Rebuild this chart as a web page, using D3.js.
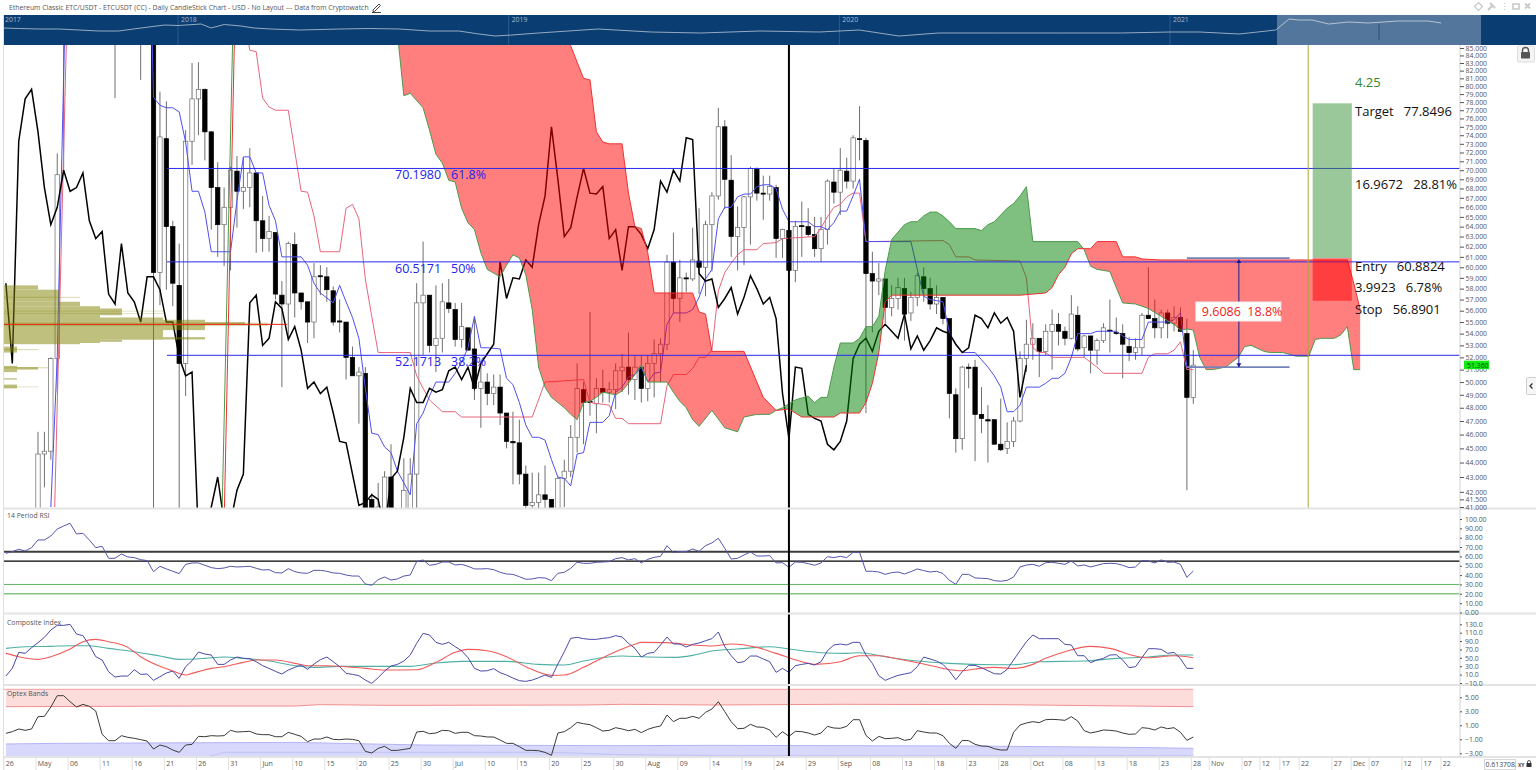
<!DOCTYPE html>
<html><head><meta charset="utf-8"><title>ETC/USDT</title>
<script src="https://cdnjs.cloudflare.com/ajax/libs/d3/7.8.5/d3.min.js"></script>
<style>html,body{margin:0;padding:0;background:#fff;overflow:hidden}svg{display:block}text{font-family:"Open Sans",sans-serif}</style>
</head><body><svg id="c" width="1536" height="770"></svg><script>
// ---------- DATA ----------
const chartTitle="Ethereum Classic ETC/USDT - ETCUSDT (CC) - Daily CandleStick Chart - USD - No Layout --- Data from Cryptowatch";
// daily candles [open, high, low, close]; day 0 = 26 Apr, day 185 = 28 Oct
const candleRows=[
[38,39,37,38],[38,39,37,38.4],[38.4,39,37,38],[38,39,37,38.5],[38.5,39.5,37.5,40],
[40,46.2,39,44.6],[44.6,46.2,42.3,44.8],[44.8,52,44.2,51.9],[51.9,71.9,49.2,69.5],[86,100,69.5,95],
[95,105,90,100],[100,110,92,98],[98,108,90,96],[96,104,90,100],[100,108,92,95],[95,102,90,98],[98,104,92,94],[92,98,78.5,90],[90,96,87,92],[92,100,88,96],[96,104,90,92],[92,98,80.8,90],[90,100,87,95],
[95,100,38,59.5],[59.5,79.3,56.5,73.8],[73.6,78.1,57.9,64],[64,64.6,56.4,58.5],[58.3,62.3,39,51.5],[51.5,74.6,48.9,73.3],[73.3,83,70.6,78.4],[78.4,83.1,74,79.6],[79.6,79.7,71.1,74.4],[74.4,74.5,63.7,68.1],[68.1,70.9,61,64.2],[64.2,68.1,60.1,66],[66,70.4,59.7,70],[69.9,71.6,63.9,67.7],[67.7,71.4,65.8,68.1],[68.1,72.5,66,69.7],[69.7,69.7,61.4,64.6],
[64.6,67.2,61.5,62.8],[62.8,65.1,61.5,63.5],[63.4,63.4,57,57.5],[57.4,58.7,49.6,56.6],[56.6,62.5,53.6,62.3],[62.2,63.4,55.4,57.6],[57.6,57.6,56.1,56.8],[56.8,56.8,53.2,55],[55,60.4,53.6,59.1],[59.2,60.2,57.4,59.1],[59.1,60,56.8,57.9],[57.8,58.2,54.7,55],[55.1,57,54.1,55],[55,55,50.2,52],[52,52.9,50.5,50.5],[50.5,51.2,46.8,50.8],[50.7,51.2,38,39],[41.5,41.9,38,39],[40,42.6,38,41],[40,43.4,39,43],
[43,45.3,39,40],[39,40.5,38,40],[40,44.3,39,42.1],[40.5,44.3,39,43.2],[43.2,58.5,40,56.7],[56.7,62.5,52.2,57.4],[57.4,57.4,52.4,53],[53,58.3,50.8,53.6],[53.6,58.5,52.4,56.8],[56.7,58.9,55.8,56.2],[56.1,56.7,52.9,53.5],[53.5,56.7,52.8,54.6],[54.5,54.5,52.6,52.6],[52.7,55.4,48.6,49.5],[49.5,51.4,46.5,50],[50,50.7,48.2,49.1],[49.1,50.6,48.2,49.6],[49.6,50.6,46.7,47.6],[47.6,47.6,45,45.5],[45.5,47.7,42.5,45.4],
[45.4,47.1,42.5,43.2],[43.2,43.8,40,41.1],[41.1,43.3,40,41.3],[41.3,43.3,40,41.8],[41.8,43.8,40,41.5],[41.5,41.5,39,39.5],[39.5,43,38.5,42.9],[42.9,44.2,41,43.4],[43.4,46.7,43,45.8],[45.8,51.5,44.7,49.5],[49.4,50,45.3,48.4],[48.5,55.9,47.4,48.4],[48.3,50.3,46.1,49.5],[49.5,51,48.4,49.2],[49.2,50,48.4,49.4],[49.4,51.5,47.9,50.9],[50.9,52.3,49.2,51.2],[51.2,54.1,49,50.2],[50.2,52.2,48.6,51.2],[51.2,52.2,48.4,49.5],
[49.5,52.2,48.5,51.5],[51.5,53.5,48.8,52.3],[52.3,53.6,50,53.1],[53.1,61.2,52.6,60.5],[60.5,63.4,55.8,57.1],[57.1,60.7,55,59],[59,59.5,57.7,58.9],[58.9,63.9,58.7,60.7],[60.6,65.9,57.5,60],[60,64.6,57.3,64.2],[64.2,67.6,59.6,67.2],[67.2,77.3,66.8,75],[75,75.8,65.8,69],[68.9,71.7,61,63],[63,66.1,59.7,63.9],[63.9,67.2,60.2,67.1],[67.1,70.4,62.2,70.2],[70.1,70.3,66.7,67.5],[67.5,69.4,64.7,67.4],[67.4,69.4,66.7,68.2],
[68.1,68.4,60.9,62.8],[62.8,63.8,60.9,63.7],[63.6,65.2,58.5,59.7],[59.7,64.6,58.6,64],[64.1,66.6,61,64],[64,65.9,63,63.2],[63.2,65,61,61.8],[61.8,65,60.5,63.7],[63.7,69,62.2,68.8],[68.7,70.2,66.4,67.6],[67.6,72.5,65.2,70],[69.9,71.4,68,68.8],[68.8,74,68,73.7],[73.6,77.5,71.1,73.5],[73.4,73.7,47.6,59.4],[59.4,61.5,54.1,58.7],[58.7,60.4,57.4,58.9],[58.9,58.9,54.9,56.3],[56.3,58.3,55.5,57.1],[57.1,59,56.1,58.1],
[58,59,53.4,55.7],[55.8,57.7,55.1,57.2],[57.2,59.5,56.4,59.2],[59.1,60,56.8,58],[58,59,56.1,56.6],[56.6,58.3,55.7,57.2],[57.2,57.2,54.8,55.3],[55.3,55.3,47.2,49.1],[49,49.5,44.7,45.7],[45.7,51.3,44.9,51.2],[51.2,51.5,49.5,51.1],[51.2,51.8,44.1,47.5],[47.5,49.6,46.1,47.2],[47.1,48.2,44,47],[47.1,47.1,45.3,45.3],[45.3,48.7,44.8,44.9],[45,46.9,44.6,45.5],[45.5,47.3,45.1,47],[47,52.5,46.9,51.9],[51.9,55.2,50.8,53.1],
[53.1,54.9,51.8,53.6],[53.6,53.6,50.4,52.5],[52.5,54.8,52.2,54.2],[54.2,56.1,51,54.8],[54.8,55.8,53,54.2],[54.2,54.6,53,53.6],[53.6,57.4,53.5,55.7],[55.6,56.4,52.5,52.7],[52.8,53.9,52,53.8],[53.8,53.8,50.7,52.6],[52.6,53.6,51.4,53.4],[53.4,54.9,53.2,54.5],[54.3,57,52.4,54.2],[54.1,55.4,53.9,54],[54,54.8,50.3,53.1],[52.9,53.7,51.7,52.4],[52.4,53.6,51.8,52.8],[52.8,55.8,52.2,55.6],[55.6,60,55.3,55.3],[55.3,57,53.6,54.5],
[54.5,56.1,53.6,55.8],[55.8,56.1,53.6,54.9],[54.9,56.4,54.2,55.4],[55.4,56.3,54.2,54.2],[54,55.3,42.1,48.8],[48.8,52.6,48.3,51.36]];
// leading spans, as [day, price] vertices (days past 185 are the forward-plotted cloud)
const spanAPoints=[[33.7,41],[35.3,85],[36,120],[61,87],[62,78.8],[63,79.1],[65,77.3],[66,74.6],[67,71.8],[68,70.8],[69,68.9],[70,68.7],[71,65.9],[72,64.4],[73,63.7],[74,61.4],[75,59.8],[77,59.1],[78,60.2],[79,61.2],[80,60.9],[81,59.3],[82,56.1],[83,51.2],[84,49.6],[85,48.8],[86,48.4],[87,48],[88,47.5],[89,47.1],[90,48.4],[91,48.5],[92,48.8],[93,49.2],[94,49.1],[95,49],[96,49.3],[97,49.9],[98,50.6],[99,51.4],[100,50],[103,50],[104,49.2],[105,48.5],[106,48],[107,47.1],[108,46.6],[110,47.8],[112,46.5],[114,46.2],[115,47.3],[117,47.5],[119,47.5],[120,47.8],[121,48],[123,48.6],[125,48.9],[126,48.4],[127,48.8],[128,48.8],[129,51.2],[130,53.2],[132,53.2],[133,53.6],[134,54.6],[135,54.6],[136,55.5],[137,59.7],[138,62.7],[140,64.2],[141,64.5],[142,64.5],[143,65.1],[144,65.5],[145,65.5],[146,65.1],[147,64.5],[148,63.8],[151,63.8],[152,63.6],[153,64.2],[154,64.5],[155,65.2],[156,65.9],[157,66.4],[158,67.2],[159,68.2],[160,62.5],[167,62.5],[168,61.7],[169,60.1],[170,59.8],[172,59.6],[173,58.1],[174,56.7],[176,56.6],[177,56.4],[178,56.2],[180,55.5],[181,55.1],[182,54.8],[183,54.3],[184,54.4],[185,54.3],[186,52],[187,51],[188,51],[189,51.1],[190,51.2],[192,52],[193,52.9],[194,53],[196,52.5],[197,52.4],[199,52.4],[201,52.1],[203,52.1],[204,53.5],[205,53.6],[207,53.6],[208,53.9],[209,54.6],[210,51],[211,51]];
const spanBPoints=[[34,40],[35.6,86],[36,130],[61,110],[88,85.3],[89,83.1],[90,81],[91,80.8],[92,74.4],[93,73.2],[94,73],[96,73],[97,67.5],[98,64],[99,63.8],[100,61.4],[101,57.6],[107,57.6],[108,55.9],[109,55.7],[110,52.5],[115,52.5],[118,48.8],[119,48.3],[120,47.8],[122,47.9],[123,47.6],[124,47.3],[129,47.3],[130,47.6],[133,47.6],[134,48.4],[135,49.9],[136,52.4],[137,56.8],[138,57.4],[158,57.4],[162,57.6],[163,58.1],[164,59.3],[165,60],[166,61.3],[167,61.8],[169,61.8],[170,62.5],[173,62.5],[174,61],[176,61],[177,60.8],[180,60.7],[209,60.7],[210,58.5],[211,56.1]];
const tenkanPoints=[[7,41],[8,52],[9.1,85],[10,100],[22,120],[23,78.6],[24,77.6],[25,77.3],[26,77.3],[27,76.8],[28,73.2],[29,67.7],[30,67.7],[31,65.5],[32,61.5],[35,61.5],[36,66.7],[37,71.5],[38,71.5],[39,69.7],[40,69.7],[41,66.2],[42,64.6],[43,61],[46,61],[47,60.2],[48,58.5],[49,57.6],[51,56.7],[52,58.3],[53,56.8],[54,55.4],[55,53.6],[56,49.5],[57,46.1],[58,46],[59,45.1],[60,44.7],[61,43.4],[62,42.6],[63,41.8],[64,46.8],[65,47.6],[66,48.9],[67,50],[69,50],[70,50.7],[71,51.6],[72,52.8],[73,55.5],[74,52.8],[75,52.8],[77,52.7],[78,50.3],[79,49.8],[80,48.4],[81,46.7],[82,45.8],[83,45.8],[84,45.6],[85,44.2],[86,43],[87,42.9],[88,42.4],[89,44.6],[90,44.7],[91,46.9],[93,46.9],[94,47.4],[95,49.2],[96,49.6],[97,50.4],[98,50.6],[99,51.2],[100,50],[101,50.7],[102,50.8],[103,54.8],[104,55.8],[106,55.8],[107,56.1],[108,57.2],[109,58.9],[110,59.8],[111,64.8],[112,66],[113,66],[114,67.1],[115,67.4],[116,67.4],[117,68.2],[118,68.4],[119,68.4],[120,68],[121,65.8],[122,64.5],[125,64.5],[126,64],[127,64],[128,63.7],[129,64.4],[130,65.6],[131,65.6],[132,67.2],[133,69],[134,62.5],[141,62.5],[142,59.8],[143,57.3],[144,57],[146,56.8],[147,54.1],[148,53],[149,52.4],[151,52.4],[152,51.8],[153,51.2],[154,50.5],[155,49.6],[156,47.7],[157,47.7],[158,48.2],[159,49.6],[161,49.6],[162,49.9],[163,50.3],[164,50.3],[165,50.7],[166,52],[167,54],[169,54],[170,54.2],[173,54.2],[174,53.8],[175,53.5],[177,53.5],[178,55],[181,55],[182,55.2],[183,55.8],[184,51.2],[185,51.2]];
const kijunPoints=[[7.6,41],[9.4,85],[10,110],[37,90],[38,84.7],[39,84.5],[40,78.5],[41,77.4],[42,77],[44,77],[46,67.7],[47,67.6],[48,65.1],[49,61.5],[52,61.5],[53,65.9],[54,66.3],[55,64.8],[56,58.9],[57,55.5],[58,52.4],[63,52.4],[64,50.5],[65,49.5],[66,48.6],[68,47.7],[70,47.7],[71,47.3],[82,47.3],[84,50],[90,50.2],[91,48.4],[94,48.2],[95,47.2],[96,47.2],[97,46.8],[102,46.8],[103,49.7],[104,50.6],[106,50.6],[107,51.1],[108,52],[109,52],[110,52.6],[111,57.8],[112,59.5],[113,60.4],[114,61.2],[115,61.7],[117,61.7],[118,62.3],[120,62.4],[121,62.8],[126,63],[127,63.9],[128,65],[129,66],[130,66.3],[131,67.1],[132,67.5],[133,67.5],[134,62.5],[146,62.6],[147,62.2],[148,61],[150,61],[151,60.7],[158,60.6],[159,59],[160,52.8],[161,52.4],[162,52.4],[163,52],[168,52],[169,51.6],[170,51.2],[171,50.7],[177,50.7],[178,52],[179,52.3],[181,52.3],[182,52.6],[183,53.3],[184,51],[185,51]];
const fibLevels=[70.198,60.5171,52.1713];
const fibLabels=[["70.1980","61.8%"],["60.5171","50%"],["52.1713","38.2%"]];
const priceTicks=[...d3.range(85,41,-1),41.5,41];
const lastPrice=51.36;
// volume profile rows [high price, low price, volume]
const profileRows=[[58.3,57.9,34],[57.9,56.8,55],[56.8,56.4,76],[56.4,53.2,96],[56.2,55.6,118],[55.4,53.5,159],[55.2,54.3,201],[55,54.8,241],[53.7,53.5,201],[53.5,53.3,118],[53.2,53.1,76],[52.9,52.4,13],[51.3,50.8,13],[51.2,51,34],[50.3,50.2,13],[49.8,49.5,13]];
const profilePaleRows=[[57.25,57.15,76],[56,55.95,159],[55.8,55.75,159],[54.95,54.65,264],[52.7,52.6,34],[51.2,51.1,44],[49.65,49.6,34]];
const pocPrice=54.8;
const pocEndVolume=283;
// position tool and measure tool
const tradeTarget=77.8496,tradeEntry=60.8824,tradeStop=56.8901;
const tradeDays=[203.6,209.7];
const measureTop=60.5171,measureBottom=51.2,measureDay=192.1;
const measureEdgeDays=[184,200];
// RSI, one value per day
const rsiValues=[63.3,65.1,67.6,65.8,69.4,77.6,77.6,81.8,89.3,92.5,95.4,84,84.7,77.6,69.4,70.8,58,58,62.6,59.4,58.7,56.5,55.5,43.7,49.4,46.6,44.1,41.6,51.5,53,53,50.5,48,46.9,47.6,49.4,48.7,49,49.4,47.3,45.5,45.8,42.6,42.3,46.9,43.7,42.3,41.9,45.1,45.1,44.1,42.3,41.9,40.1,39,39,30.5,29.1,35.1,38,34.8,35.9,39,40.1,54.4,56.2,50.5,51.5,54,54,50.8,51.5,49.4,46.6,46.6,46.9,45.8,43,41.2,40.8,38.3,35.5,35.9,37.3,36.9,34.1,41.9,43,47.3,53.7,52.6,52.6,53.7,54,54.4,57.6,58.7,56.2,57.6,53,56.9,59,60.1,71.5,64,65.1,65.1,67.9,65.4,71.5,74.4,79.4,68.7,57.2,58,61.5,64.7,60.4,60.4,60.8,53,53.3,48.3,54,53.7,52.3,50.5,53,59.7,58.7,60.1,58.7,64.4,64.4,44.1,44.1,43.3,40.8,42.6,43.3,41.2,43.7,46.6,44.8,43.3,44.1,41.6,34.4,30.2,40.8,40.8,36.9,36.6,36.2,34.1,33.4,34.4,38,48.7,50.8,51.5,49.4,53.3,53.7,52.6,51.5,55.1,49.8,50.8,48.7,50.5,52.3,52.6,52.3,50.5,48,48.7,55.5,55.1,53,56.2,53.7,54,51.5,37.6,44.4];
const rsiTicks=[100,90,80,70,60,50,40,30,20,10,0];
const rsiDarkLevels=[65,55];
const rsiGreenLevels=[30,20];
// Composite index
const compositeValues=[6.6,24.9,63.1,60.7,74.2,86.2,98.9,116.4,127.5,127.5,129.9,106.8,102.9,80.6,52.8,44.8,16.9,4.2,6.6,6.6,21.7,10.6,11.4,-3.7,5,13.8,18.5,1,28.9,43.2,63.9,59.1,56.7,34.4,34.4,44.8,51.9,48.8,48,40.8,31.3,24.9,17.7,11.4,20.9,27.3,32.9,22.5,35.2,45.6,51.9,40.8,28.9,13,10.6,7.4,-3,-10.9,2.6,18.5,30.5,34.4,42.4,56.7,84.6,108.4,104.5,87,82.2,87,76.6,67,50.4,24.9,18.5,19.3,24.1,14.6,9,1.8,-4.5,-6.1,-3,2.6,9,3.4,35.2,64.7,96.5,98.9,95.7,94.1,94.1,96.5,98.1,102.9,99.7,84.6,72.6,51.9,60.7,63.1,80.6,99.7,83,83,75.8,82.2,85.4,90.9,95.7,111.6,76.6,55.1,38.4,40.8,54.3,54.3,47.2,40.8,15.4,24.9,15.4,31.3,34.4,36.8,32.9,40.8,67,80.6,83,80.6,87,87,56.7,36.8,7.4,-3.7,2.6,8.2,11.4,14.6,28.9,51.9,47.2,42.4,34.4,18.5,-2.2,16.9,32.1,32.1,26.5,19.3,12.2,11.4,22.5,44.8,67,88.5,104.5,95.7,95.7,95.7,95.7,82.2,80.6,55.1,55.1,38.4,44.8,48.8,56.7,57.5,44.8,26.5,28.9,50.4,71.8,71.8,70.2,60.7,63.1,48,24.9,24.9];
const compositeFastPoints=[[0,60.7],[2,52.8],[5,46.4],[7,52.8],[10,71],[12,88.5],[14,94.1],[16,88.5],[19,75],[21,52.8],[24,29.7],[26,18.5],[28,9],[29,13],[32,24.9],[34,28.9],[37,39.2],[39,44.8],[42,44.8],[45,36.8],[47,31.3],[50,31.3],[53,28.9],[56,24.9],[59,20.9],[64,21.7],[67,39.2],[70,63.1],[72,70.2],[75,67],[78,52.8],[81,28.9],[85,8.2],[87,9],[90,27.3],[93,50.4],[96,71],[98,82.2],[99,87],[103,86.2],[107,80.6],[110,78.2],[113,83],[117,75],[120,60.7],[124,40.8],[126,34.4],[130,40.8],[133,55.1],[136,55.1],[139,47.2],[143,35.2],[146,24.9],[149,19.3],[151,23.3],[154,27.3],[157,24.9],[160,34.4],[162,48.8],[165,64.7],[169,77.4],[172,72.6],[176,54.3],[178,50.4],[182,55.1],[185,50.4]];
const compositeSlowPoints=[[0,72.6],[3,76.6],[7,77.4],[10,79],[13,79],[16,72.6],[20,64.7],[24,54.3],[27,46.4],[31,48.8],[34,51.9],[37,48.8],[41,42.4],[45,31.3],[48,27.3],[52,29.7],[57,29.7],[63,29.7],[67,37.6],[71,41.6],[78,41.6],[83,34.4],[87,32.9],[90,42.4],[96,54.3],[100,51.9],[104,51.1],[107,55.9],[110,66.3],[114,71],[119,76.6],[122,71],[127,62.3],[131,60.7],[133,62.3],[137,52.8],[142,42.4],[147,36.8],[154,33.7],[157,33.7],[161,40.8],[168,42.4],[173,48.8],[178,51.9],[182,56.7],[185,56.7]];
const compositeTicks=[130,110,90,70,50,30,10,-10];
// Optex bands
const optexValues=[-.15,.09,.47,.28,.47,2.23,2.28,3.61,5.23,5.23,4.37,3.61,3.99,3.71,3.04,-.29,-1.2,-1.2,-.48,-.72,-.86,-1.05,-1.25,-2.39,-1.82,-2.05,-2.53,-2.87,-1.82,-1.72,-.58,-.63,-.48,-.53,-.48,.28,.04,.09,.14,-.24,-.34,-.34,-.63,-.63,-.01,-.29,-.58,-1.34,-.96,-.96,-.67,-1.01,-1.05,-.96,-1.01,-1.2,-2.72,-2.96,-2.29,-2,-2.58,-2.58,-2.44,-2.29,.04,.14,-.2,-.1,.28,.23,-.15,0,0,-.48,-.53,-.67,-.67,-1.1,-1.58,-1.58,-2.05,-2.58,-2.58,-2.63,-2.87,-3.29,-.1,.09,.66,1.42,1.23,1.09,.66,.18,.28,.66,.47,.23,.42,-.05,.42,.71,.9,2.47,1.52,2,2,2.28,2,2.85,3.33,4.37,2.95,1.52,.52,.57,1.14,.76,.71,.33,-.72,.09,-.58,.14,.09,-.1,-.39,-.1,.85,.61,.57,.85,1.8,1.8,-.44,-1.25,-.58,-.91,-.86,-.77,-1.15,-1,.23,.04,-.1,-.1,-.48,-1.58,-2.29,-1.15,-1.2,-1.72,-1.96,-2,-2.34,-2.53,-2.53,0,1.04,1.33,1.52,1.38,1.8,1.85,1.8,1.71,2.23,1.61,.23,-.1,.09,.33,.28,.18,-.1,-.29,-.24,.66,.57,.33,.76,.52,.66,0,-1.15,-.67];
const optexUpperTop=6.14;
const optexUpperPoints=[[0,3.66],[30,3.75],[45,3.75],[49,3.95],[60,3.85],[90,3.9],[96,4],[110,3.9],[130,4],[155,3.95],[165,3.85],[185,3.66]];
const optexLowerPoints=[[0,-1.67],[8,-1.58],[45,-1.44],[55,-1.63],[65,-1.82],[96,-1.91],[110,-1.86],[150,-1.96],[175,-2.15],[185,-2.29]];
const optexInnerPoints=[[31,-3.6],[34,-2.86],[85,-2.86],[96,-3.2],[112,-3.34],[185,-3.34]];
const optexTicks=[5,3,1,-1,-3];
// time axis
const timeLabels=["26","May","06","11","16","21","26","31","Jun","10","15","20","25","30","Jul","10","15","20","25","30","Aug","09","14","19","24","29","Sep","08","13","18","23","28","Oct","08","13","18","23","28","Nov","07","12","17","22","27","Dec","07","12","17","22"];
const timeDays=[...d3.range(0,186,5),187.8,192.9,195.7,198.8,201.8,206.9,209.9,212.7,217.8,220.9,223.9];
const crosshairDay=122, sessionDay=202.9;
// navigator history
const navYears=[2017.47,2017.52,2017.58,2017.64,2017.70,2017.76,2017.82,2017.90,2017.96,2018,2018.07,2018.10,2018.14,2018.19,2018.23,2018.28,2018.37,2018.49,2018.58,2018.67,2018.76,2018.85,2018.91,2018.96,2019.01,2019.09,2019.27,2019.43,2019.58,2019.76,2019.94,2020.06,2020.18,2020.30,2020.48,2020.66,2020.85,2021,2021.09,2021.21,2021.32,2021.36,2021.39,2021.43,2021.48,2021.54,2021.60,2021.69,2021.78,2021.82];
const navValues=[17,16.5,16,16,15,14,14,17.5,20,19.5,21,17,20.5,19,17,16,15,16,16.5,16,14,14,11,9,10,12,16,13,12,14,13,15,9,12,12,12,12,13,13,11,15,26,25,25,21,23,22,24,24,22];
const navYearTicks=[2018,2019,2020,2021];
const cursorValue="0.6137083";

// ---------- SCALES ----------
const svg=d3.select("#c");
const L=4,R=1460;
const x=d3.scaleLinear().domain([0,185]).range([5.9,1193.3]);
const y=d3.scaleLog().domain([85,41]).range([48,507]);
const yRsi=d3.scaleLinear().domain([0,100]).range([612.5,519]);
const yComp=d3.scaleLinear().domain([-10,130]).range([683,624.3]);
const yOpt=d3.scaleLinear().domain([-3,5]).range([753.3,697.3]);
const xNav=d3.scaleLinear().domain([2018,2021]).range([178,1170]);
const yNav=d3.scaleLinear().domain([0,30]).range([45,15]);
const defs=svg.append("defs");
function clip(id,x0,y0,x1,y1){defs.append("clipPath").attr("id",id).append("rect").attr("x",x0).attr("y",y0).attr("width",x1-x0).attr("height",y1-y0);}
clip("cMain",L,45,R,508);clip("cRsi",L,509,R,613);clip("cComp",L,614,R,685);clip("cOpt",L,686,R,757);clip("cCursor",1485,759,1516,770);
const ptLine=(sy,curve)=>d3.line().x(d=>x(d[0])).y(d=>sy(d[1])).curve(curve||d3.curveLinear);
const series=v=>v.map((d,i)=>[i,d]);

// ---------- HEADER ----------
svg.append("text").attr("x",9).attr("y",10).attr("font-size",6.85).attr("fill","#555").text(chartTitle);
svg.append("path").attr("d","M373 10l6-6 1.5 1.5-6 6h-1.5zM372 12.5h9").attr("fill","none").attr("stroke","#444").attr("stroke-width",1);
const ic=svg.append("g").attr("fill","none").attr("stroke","#c9c9c9").attr("stroke-width",1.2);
ic.append("path").attr("d","M1478.5 2.5l4 4-4 4-4-4z");
ic.append("path").attr("d","M1488 10l4-4M1490 3l5 5").attr("stroke-width",2);
ic.append("path").attr("d","M1504.5 3v1M1504.5 6v1M1504.5 9v1");
ic.append("rect").attr("x",1513).attr("y",4).attr("width",6).attr("height",5).attr("stroke-width",1.6);
ic.append("path").attr("d","M1525 3.500l5 5M1530 3.500l-5 5").attr("stroke-width",1.8);

// ---------- NAVIGATOR ----------
const nav=svg.append("g");
nav.append("rect").attr("x",4).attr("y",15).attr("width",1532).attr("height",30).attr("fill","#0a3d72");
nav.selectAll("line.y").data(navYearTicks).join("line").attr("x1",d=>xNav(d)).attr("x2",d=>xNav(d)).attr("y1",15).attr("y2",45).attr("stroke","#2f5c8c");
nav.append("path").datum(navValues).attr("fill","none").attr("stroke","#b9c6d4").attr("stroke-width",.8)
  .attr("d",d3.line().x((d,i)=>xNav(navYears[i])).y(d=>yNav(d)));
nav.selectAll("text").data([2017,...navYearTicks]).join("text").attr("x",d=>d===2017?5:xNav(d)+3).attr("y",22).attr("font-size",6.9).attr("fill","#a9bccf").text(d=>d);
nav.append("rect").attr("x",1277).attr("y",15).attr("width",204).attr("height",30).attr("fill","#fff").attr("opacity",.3);
nav.append("line").attr("x1",1379).attr("x2",1379).attr("y1",24).attr("y2",40).attr("stroke","#2f4f70");

// ---------- MAIN PANEL ----------
const main=svg.append("g").attr("clip-path","url(#cMain)");
const candles=candleRows.map((r,i)=>({i,o:r[0],h:r[1],l:r[2],c:r[3]}));
main.selectAll("line.w").data(candles).join("line").attr("x1",d=>x(d.i)).attr("x2",d=>x(d.i)).attr("y1",d=>y(d.h)).attr("y2",d=>y(d.l)).attr("stroke","#6f6f6f").attr("stroke-width",1);
main.selectAll("rect.b").data(candles).join("rect")
  .attr("x",d=>x(d.i)-2.2).attr("width",4.4)
  .attr("y",d=>y(Math.max(d.o,d.c))).attr("height",d=>Math.max(1,y(Math.min(d.o,d.c))-y(Math.max(d.o,d.c))))
  .attr("fill",d=>d.c>d.o?"#fff":"#000").attr("stroke",d=>d.c>d.o?"#6a6a6a":"#000").attr("stroke-width",.7);
const kumoLine=ptLine(y);
main.append("path").attr("d",ptLine(y)(kijunPoints)).attr("fill","none").attr("stroke","#e9657c").attr("stroke-width",1);
main.append("path").attr("d",ptLine(y)(tenkanPoints)).attr("fill","none").attr("stroke","#4f4ff0").attr("stroke-width",1);
// chikou span: the closes plotted 26 days back
const chikou=candleRows.slice(26).map((r,i)=>[i,r[3]]);
main.append("path").attr("d",ptLine(y)(chikou)).attr("fill","none").attr("stroke","#000").attr("stroke-width",1.5);
// volume profile
const vpX=d3.scaleLinear().domain([0,283]).range([4,287]);
main.selectAll("rect.vpp").data(profilePaleRows).join("rect").attr("x",vpX(0)).attr("y",d=>y(d[0])).attr("width",d=>vpX(d[2])-vpX(0)).attr("height",d=>Math.max(.8,y(d[1])-y(d[0]))).attr("fill","rgba(128,128,0,.28)");
const vp=main.append("g").attr("opacity",.5);
vp.selectAll("rect").data(profileRows).join("rect").attr("x",vpX(0)).attr("y",d=>y(d[0])).attr("width",d=>vpX(d[2])-vpX(0)).attr("height",d=>y(d[1])-y(d[0])).attr("fill","#808000");
main.append("line").attr("x1",vpX(0)).attr("x2",vpX(pocEndVolume)).attr("y1",y(pocPrice)).attr("y2",y(pocPrice)).attr("stroke","#f02010").attr("stroke-width",1);
// kumo
const aAt=d3.scaleLinear().domain(spanAPoints.map(d=>d[0])).range(spanAPoints.map(d=>d[1]));
const bAt=d3.scaleLinear().domain(spanBPoints.map(d=>d[0])).range(spanBPoints.map(d=>d[1]));
const runs=[];let cur=[];
const days=d3.range(61,212);
days.forEach((d,k)=>{
  const a=aAt(d),b=bAt(d),s=a>=b;
  if(k>0){const p=days[k-1],pa=aAt(p),pb=bAt(p),ps=pa>=pb;
    if(ps!==s){const t=(pa-pb)/((pa-pb)-(a-b)),cd=p+t,cv=pa+(a-pa)*t;
      cur.push({d:cd,a:cv,b:cv});runs.push({up:ps,pts:cur});cur=[{d:cd,a:cv,b:cv}];}}
  cur.push({d,a,b});
});
runs.push({up:aAt(211)>=bAt(211),pts:cur});
const area=d3.area().x(d=>x(d.d)).y0(d=>y(d.a)).y1(d=>y(d.b));
main.selectAll("path.k").data(runs).join("path").attr("d",d=>area(d.pts)).attr("fill",d=>d.up?"rgba(0,128,0,.5)":"rgba(255,0,0,.5)");
main.append("path").attr("d",kumoLine(spanAPoints)).attr("fill","none").attr("stroke","#4c9a4c").attr("stroke-width",1);
main.append("path").attr("d",kumoLine(spanBPoints)).attr("fill","none").attr("stroke","#f03030").attr("stroke-width",1);
// fib levels
fibLevels.forEach((lv,k)=>{
  main.append("line").attr("x1",167).attr("x2",R).attr("y1",y(lv)).attr("y2",y(lv)).attr("stroke","#2a2aee").attr("stroke-width",1);
  main.append("text").attr("x",395).attr("y",y(lv)+11).attr("font-size",12.5).attr("fill","#2222ee").text(fibLabels[k][0]);
  main.append("text").attr("x",451).attr("y",y(lv)+11).attr("font-size",12.5).attr("fill","#2222ee").text(fibLabels[k][1]);
});
// session line
main.append("line").attr("x1",x(sessionDay)).attr("x2",x(sessionDay)).attr("y1",45).attr("y2",508).attr("stroke","#a8a83c").attr("stroke-width",1);
// position tool
main.append("rect").attr("x",x(tradeDays[0])).attr("width",x(tradeDays[1])-x(tradeDays[0])).attr("y",y(tradeTarget)).attr("height",y(tradeEntry)-y(tradeTarget)).attr("fill","rgba(56,146,56,.5)");
main.append("rect").attr("x",x(tradeDays[0])).attr("width",x(tradeDays[1])-x(tradeDays[0])).attr("y",y(tradeEntry)).attr("height",y(tradeStop)-y(tradeEntry)).attr("fill","rgba(255,0,0,.5)");
const tradeLabels=[["4.25",1355,87,"#2e8b2e"],["Target   77.8496",1355,116,"#111"],["16.9672   28.81%",1355,189,"#111"],["Entry   60.8824",1355,271,"#111"],["3.9923   6.78%",1355,292,"#111"],["Stop   56.8901",1355,314,"#111"]];
main.selectAll("text.t").data(tradeLabels).join("text").attr("x",d=>d[1]).attr("y",d=>d[2]).style("white-space","pre").attr("font-size",13).attr("fill",d=>d[3]).text(d=>d[0]);
// measure tool
[tradeEntry,measureBottom].forEach(p=>main.append("line").attr("x1",x(measureEdgeDays[0])).attr("x2",x(measureEdgeDays[1])).attr("y1",y(p)).attr("y2",y(p)).attr("stroke","#7383b8").attr("stroke-width",1.6));
const mx=x(measureDay);
main.append("line").attr("x1",mx).attr("x2",mx).attr("y1",y(measureTop)-2).attr("y2",y(measureBottom)).attr("stroke","#1c1c90").attr("stroke-width",1);
main.append("path").attr("d",`M${mx-2.5} ${y(measureTop)+1}h5l-2.500 -4zM${mx-2.5} ${y(measureBottom)-4}h5l-2.500 4z`).attr("fill","#1c1c90");
main.append("rect").attr("x",mx-43).attr("y",302).attr("width",85).attr("height",19).attr("fill","#fff").attr("stroke","#eee");
main.append("text").attr("x",mx-37).attr("y",316).attr("font-size",12.5).attr("fill","#ee2222").style("white-space","pre").text("9.6086  18.8%");

// ---------- RSI ----------
const rsi=svg.append("g").attr("clip-path","url(#cRsi)");
rsiDarkLevels.forEach((v,k)=>rsi.append("line").attr("x1",L).attr("x2",R).attr("y1",yRsi(v)).attr("y2",yRsi(v)).attr("stroke",k?"#000":"#3c3c3c").attr("stroke-width",k?1.4:2));
rsiGreenLevels.forEach((v,k)=>rsi.append("line").attr("x1",L).attr("x2",R).attr("y1",yRsi(v)).attr("y2",yRsi(v)).attr("stroke",k?"#83c783":"#5fb35f").attr("stroke-width",k?1.6:1));
rsi.append("path").attr("d",ptLine(yRsi)(series(rsiValues))).attr("fill","none").attr("stroke","#5555ad").attr("stroke-width",1);

// ---------- COMPOSITE ----------
const comp=svg.append("g").attr("clip-path","url(#cComp)");
comp.append("path").attr("d",ptLine(yComp,d3.curveMonotoneX)(compositeSlowPoints)).attr("fill","none").attr("stroke","#4fb0a5").attr("stroke-width",1.1);
comp.append("path").attr("d",ptLine(yComp,d3.curveMonotoneX)(compositeFastPoints)).attr("fill","none").attr("stroke","#f35a5a").attr("stroke-width",1.1);
comp.append("path").attr("d",ptLine(yComp)(series(compositeValues))).attr("fill","none").attr("stroke","#4a4aa8").attr("stroke-width",1);

// ---------- OPTEX ----------
const opt=svg.append("g").attr("clip-path","url(#cOpt)");
const upperBand=optexUpperPoints.map(d=>({d:d[0],lo:d[1]}));
opt.append("path").attr("d",d3.area().x(d=>x(d.d)).y0(yOpt(optexUpperTop)).y1(d=>yOpt(d.lo))(upperBand)).attr("fill","#fddcdc");
opt.append("line").attr("x1",L).attr("x2",x(185)).attr("y1",yOpt(optexUpperTop)).attr("y2",yOpt(optexUpperTop)).attr("stroke","#f4a0a0");
opt.append("path").attr("d",ptLine(yOpt)(optexUpperPoints)).attr("fill","none").attr("stroke","#f09090");
opt.append("path").attr("d",d3.area().x(d=>x(d[0])).y0(757).y1(d=>yOpt(d[1]))(optexLowerPoints)).attr("fill","#d8d8fc");
opt.append("path").attr("d",ptLine(yOpt)(optexLowerPoints)).attr("fill","none").attr("stroke","#b4b4f4");
opt.append("path").attr("d",ptLine(yOpt)(optexInnerPoints)).attr("fill","none").attr("stroke","#c2c2f6");
opt.append("path").attr("d",ptLine(yOpt)(series(optexValues))).attr("fill","none").attr("stroke","#3a3a3a").attr("stroke-width",1);

// crosshair over everything
svg.append("line").attr("x1",x(crosshairDay)).attr("x2",x(crosshairDay)).attr("y1",45).attr("y2",757).attr("stroke","#000").attr("stroke-width",2);

// ---------- FRAME ----------
const frame=svg.append("g").attr("stroke","#e4e4e4").attr("stroke-width",2);
[508.5,613.5,685,757].forEach(v=>frame.append("line").attr("x1",3).attr("x2",1536).attr("y1",v).attr("y2",v));
svg.append("line").attr("x1",3.5).attr("x2",3.5).attr("y1",15).attr("y2",770).attr("stroke","#e0e0e0");
svg.append("line").attr("x1",R).attr("x2",R).attr("y1",45).attr("y2",757).attr("stroke","#e0e0e0").attr("stroke-width",1.4);
[["14 Period RSI",518],["Composite Index",624.5],["Optex Bands",695.5]].forEach(d=>svg.append("text").attr("x",7).attr("y",d[1]).attr("font-size",6.9).attr("fill","#555").text(d[0]));

// ---------- AXES ----------
function styleAxis(g,fs){g.select(".domain").remove();g.selectAll("line").attr("stroke","#555");g.selectAll("text").attr("font-size",fs).attr("fill","#555").attr("font-family","'Open Sans',sans-serif");}
svg.append("g").attr("transform",`translate(${R},0)`).call(d3.axisRight(y).tickValues(priceTicks).tickFormat(d3.format(".3f")).tickSize(4).tickPadding(1.5)).call(g=>styleAxis(g,6.9));
svg.append("g").attr("transform",`translate(${R},0)`).call(d3.axisRight(yRsi).tickValues(rsiTicks).tickFormat(d3.format(".2f")).tickSize(2).tickPadding(3)).call(g=>styleAxis(g,6.9));
svg.append("g").attr("transform",`translate(${R},0)`).call(d3.axisRight(yComp).tickValues(compositeTicks).tickFormat(d3.format(".1f")).tickSize(2).tickPadding(3)).call(g=>styleAxis(g,6.9));
svg.append("g").attr("transform",`translate(${R},0)`).call(d3.axisRight(yOpt).tickValues(optexTicks).tickFormat(d3.format(".2f")).tickSize(2).tickPadding(3)).call(g=>styleAxis(g,6.9));
const tAxis=svg.append("g").attr("transform","translate(-2.5,757)").call(d3.axisBottom(x).tickValues(timeDays).tickFormat((d,i)=>timeLabels[i]).tickSize(13));
tAxis.select(".domain").remove();tAxis.selectAll("line").attr("stroke","#e0e0e0");
tAxis.selectAll("text").attr("font-size",7).attr("fill","#555").attr("text-anchor","start").attr("x",1.8).attr("y",9).attr("dy",0);

// current price tag
svg.append("rect").attr("x",1464).attr("y",y(lastPrice)-4.5).attr("width",25).attr("height",8.5).attr("fill","#12ea12");
svg.append("text").attr("x",1467).attr("y",y(lastPrice)+2.5).attr("font-size",6.9).attr("fill","#114411").text(d3.format(".3f")(lastPrice));

// widgets
svg.append("rect").attr("x",1517.5).attr("y",46).attr("width",17).attr("height",16).attr("rx",1).attr("fill","#f4f4f4").attr("stroke","#dedede");
svg.append("path").attr("d","M1522.5 52v-1.5a3 3 0 0 1 6 0v1.500").attr("fill","none").attr("stroke","#555").attr("stroke-width",1.4);
svg.append("rect").attr("x",1521).attr("y",52).attr("width",9).attr("height",6.5).attr("rx",.8).attr("fill","#555");
svg.append("rect").attr("x",1526.5).attr("y",377.5).attr("width",10).attr("height",17).attr("rx",1).attr("fill","#f6f6f6").attr("stroke","#cfcfcf");
svg.append("path").attr("d","M1532.500 383.500l-2.500 2.500 2.500 2.500").attr("fill","none").attr("stroke","#333").attr("stroke-width",1.3);
svg.append("rect").attr("x",1484.5).attr("y",759.5).attr("width",31).attr("height",10).attr("fill","#fff").attr("stroke","#d8d8d8");
svg.append("text").attr("x",1485.5).attr("y",767).attr("font-size",6.9).attr("fill","#444").attr("clip-path","url(#cCursor)").text(cursorValue);
svg.append("text").attr("x",1518).attr("y",766.5).attr("font-size",5).attr("font-weight",700).attr("fill","#444").text("XY");
svg.append("path").attr("d","M1527.5 763v-1a1.500 1.500 0 0 1 3 0v1").attr("fill","none").attr("stroke","#333").attr("stroke-width",.8);
svg.append("rect").attr("x",1526.500).attr("y",763).attr("width",5).attr("height",4).attr("fill","#333");
</script></body></html>
